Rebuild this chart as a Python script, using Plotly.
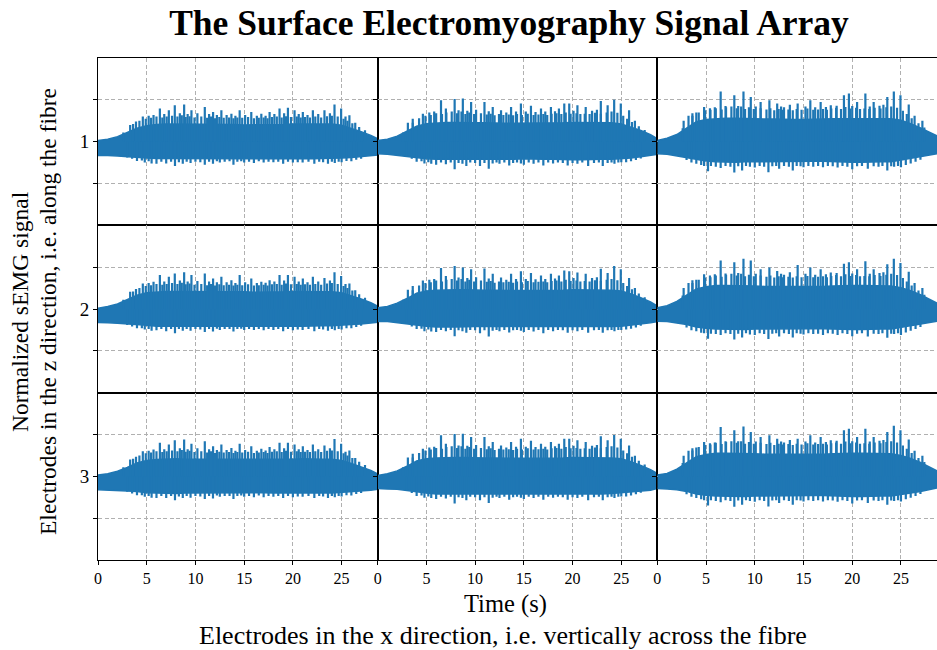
import plotly.graph_objects as go
from plotly.subplots import make_subplots

COLOR = "#1f77b4"
FONT = "Liberation Serif"

ROW_LABELS = ["1", "2", "3"]
X_TICKS = [0, 5, 10, 15, 20, 25]
TITLE = "The Surface Electromyography Signal Array"
X_TITLE = "Time (s)"
X_SUPTITLE = "Electrodes in the x direction, i.e. vertically across the fibre"
Y_TITLE_1 = "Normalized sEMG signal"
Y_TITLE_2 = "Electrodes in the z direction, i.e. along the fibre"

# solid body of the signal: upper / lower envelope, sampled every second
T_CORE = [0, 1, 2, 3, 4, 5, 6, 7, 8, 9, 10, 11, 12, 13, 14, 15, 16, 17, 18, 19,
          20, 21, 22, 23, 24, 25, 26, 27, 28, 28.7]

R1C1_UPPER = [0.03,0.06,0.12,0.22,0.32,0.38,0.41,0.42,0.42,0.42,0.42,0.41,0.41,0.41,0.41,0.40,0.40,0.40,0.41,0.41,0.42,0.42,0.42,0.42,0.42,0.39,0.32,0.24,0.15,0.07]
R2C1_UPPER = [0.02,0.06,0.12,0.22,0.33,0.39,0.41,0.42,0.42,0.42,0.42,0.41,0.41,0.41,0.41,0.41,0.40,0.40,0.41,0.41,0.42,0.42,0.42,0.42,0.41,0.39,0.32,0.24,0.15,0.07]
R3C1_UPPER = [0.03,0.06,0.12,0.21,0.32,0.38,0.40,0.41,0.42,0.41,0.41,0.41,0.40,0.40,0.40,0.40,0.40,0.40,0.40,0.41,0.41,0.42,0.41,0.41,0.41,0.38,0.31,0.23,0.14,0.06]
R1C1_LOWER = [-0.33,-0.33,-0.34,-0.35,-0.37,-0.39,-0.40,-0.41,-0.41,-0.41,-0.41,-0.40,-0.40,-0.40,-0.40,-0.40,-0.40,-0.40,-0.40,-0.41,-0.41,-0.41,-0.41,-0.41,-0.40,-0.39,-0.38,-0.36,-0.34,-0.32]
R2C1_LOWER = [-0.32,-0.33,-0.34,-0.36,-0.37,-0.39,-0.41,-0.41,-0.41,-0.41,-0.40,-0.40,-0.40,-0.40,-0.40,-0.40,-0.40,-0.40,-0.41,-0.41,-0.41,-0.41,-0.41,-0.40,-0.40,-0.39,-0.37,-0.36,-0.34,-0.32]
R3C1_LOWER = [-0.32,-0.32,-0.34,-0.35,-0.36,-0.39,-0.40,-0.41,-0.41,-0.40,-0.40,-0.40,-0.39,-0.39,-0.39,-0.39,-0.39,-0.39,-0.40,-0.40,-0.40,-0.41,-0.40,-0.40,-0.40,-0.38,-0.37,-0.35,-0.33,-0.31]

R1C2_UPPER = [0.03,0.06,0.13,0.25,0.37,0.43,0.45,0.46,0.46,0.45,0.45,0.45,0.44,0.44,0.44,0.44,0.44,0.44,0.45,0.45,0.46,0.46,0.46,0.45,0.45,0.42,0.35,0.27,0.17,0.07]
R2C2_UPPER = [0.03,0.06,0.14,0.25,0.38,0.43,0.45,0.46,0.46,0.46,0.45,0.45,0.45,0.44,0.44,0.44,0.44,0.45,0.45,0.45,0.46,0.46,0.46,0.46,0.45,0.43,0.36,0.27,0.17,0.07]
R3C2_UPPER = [0.02,0.06,0.13,0.24,0.37,0.42,0.44,0.45,0.45,0.45,0.44,0.44,0.44,0.43,0.43,0.43,0.43,0.44,0.44,0.44,0.45,0.45,0.45,0.45,0.44,0.42,0.35,0.26,0.16,0.07]
R1C2_LOWER = [-0.29,-0.30,-0.32,-0.35,-0.38,-0.41,-0.42,-0.43,-0.43,-0.43,-0.42,-0.42,-0.42,-0.42,-0.42,-0.41,-0.41,-0.42,-0.42,-0.42,-0.43,-0.43,-0.43,-0.42,-0.42,-0.41,-0.39,-0.36,-0.33,-0.30]
R2C2_LOWER = [-0.30,-0.30,-0.32,-0.35,-0.38,-0.41,-0.43,-0.43,-0.43,-0.43,-0.42,-0.42,-0.42,-0.41,-0.42,-0.41,-0.42,-0.42,-0.42,-0.43,-0.43,-0.43,-0.43,-0.42,-0.42,-0.41,-0.38,-0.36,-0.33,-0.30]
R3C2_LOWER = [-0.29,-0.30,-0.31,-0.34,-0.37,-0.40,-0.42,-0.42,-0.42,-0.42,-0.42,-0.41,-0.41,-0.41,-0.41,-0.41,-0.41,-0.41,-0.41,-0.42,-0.42,-0.42,-0.42,-0.42,-0.41,-0.40,-0.38,-0.35,-0.33,-0.29]

R1C3_UPPER = [0.03,0.08,0.17,0.33,0.48,0.53,0.55,0.56,0.56,0.55,0.55,0.54,0.54,0.53,0.53,0.53,0.53,0.54,0.55,0.55,0.56,0.56,0.56,0.55,0.55,0.51,0.43,0.33,0.22,0.14]
R2C3_UPPER = [0.03,0.08,0.18,0.34,0.48,0.53,0.56,0.56,0.56,0.56,0.55,0.54,0.54,0.53,0.53,0.53,0.54,0.54,0.55,0.56,0.56,0.56,0.56,0.55,0.55,0.51,0.44,0.34,0.23,0.14]
R3C3_UPPER = [0.03,0.07,0.17,0.32,0.47,0.52,0.55,0.55,0.55,0.55,0.54,0.53,0.53,0.52,0.52,0.52,0.53,0.53,0.54,0.55,0.55,0.55,0.55,0.54,0.54,0.50,0.43,0.33,0.22,0.13]
R1C3_LOWER = [-0.29,-0.30,-0.33,-0.37,-0.42,-0.46,-0.48,-0.49,-0.49,-0.48,-0.48,-0.48,-0.47,-0.47,-0.47,-0.47,-0.47,-0.47,-0.48,-0.48,-0.49,-0.49,-0.49,-0.48,-0.48,-0.45,-0.41,-0.37,-0.32,-0.29]
R2C3_LOWER = [-0.29,-0.30,-0.33,-0.37,-0.43,-0.46,-0.48,-0.49,-0.49,-0.49,-0.48,-0.48,-0.47,-0.47,-0.47,-0.47,-0.47,-0.47,-0.48,-0.48,-0.49,-0.49,-0.49,-0.48,-0.48,-0.45,-0.41,-0.37,-0.32,-0.29]
R3C3_LOWER = [-0.29,-0.30,-0.32,-0.36,-0.42,-0.45,-0.47,-0.48,-0.48,-0.48,-0.47,-0.47,-0.46,-0.46,-0.46,-0.46,-0.46,-0.46,-0.47,-0.47,-0.48,-0.48,-0.48,-0.47,-0.47,-0.44,-0.40,-0.36,-0.32,-0.28]

# tall upward peaks: times per column, heights per panel
COL1_UP_T = [3.3,3.9,4.6,5.2,5.7,6.35,6.8,7.27,7.88,8.4,8.84,9.2,9.59,10.2,10.96,11.4,11.81,12.2,12.66,13.2,13.69,14.1,14.54,15.1,15.73,16.3,16.76,17.2,17.61,18.1,18.63,19.1,19.49,20.17,20.6,21.02,21.5,22.05,22.6,23.24,23.8,24.27,24.95,25.4,25.8,26.4]
R1C1_UP = [0.40,0.48,0.60,0.62,0.64,0.79,0.66,0.75,0.87,0.68,0.89,0.66,0.75,0.68,0.83,0.66,0.71,0.64,0.75,0.64,0.67,0.62,0.75,0.64,0.71,0.62,0.67,0.62,0.71,0.66,0.79,0.68,0.81,0.75,0.66,0.71,0.64,0.75,0.66,0.75,0.68,0.89,0.79,0.60,0.63,0.45]
R2C1_UP = [0.41,0.48,0.61,0.62,0.65,0.81,0.66,0.77,0.85,0.68,0.88,0.66,0.81,0.67,0.85,0.66,0.73,0.64,0.77,0.64,0.69,0.62,0.81,0.64,0.73,0.62,0.65,0.63,0.69,0.66,0.81,0.68,0.81,0.77,0.66,0.73,0.64,0.77,0.66,0.74,0.68,0.88,0.79,0.60,0.61,0.45]
R3C1_UP = [0.40,0.47,0.60,0.61,0.64,0.80,0.65,0.76,0.86,0.67,0.88,0.65,0.78,0.67,0.84,0.65,0.72,0.63,0.76,0.63,0.68,0.61,0.78,0.63,0.72,0.61,0.66,0.62,0.70,0.65,0.80,0.67,0.80,0.76,0.65,0.72,0.63,0.76,0.65,0.74,0.67,0.89,0.78,0.59,0.62,0.44]

COL2_UP_T = [3.1,3.6,4.64,5.3,5.8,6.5,7.0,7.9,8.3,8.74,9.2,9.59,10.1,10.96,11.4,11.81,12.66,13.2,13.69,14.2,14.7,15.2,15.73,16.2,16.76,17.2,17.78,18.2,18.6,19.15,19.66,20.1,20.5,21.35,22.0,22.5,22.9,23.6,24.27,24.95,25.8,26.4]
R1C2_UP = [0.45,0.55,0.67,0.70,0.72,0.99,0.79,1.02,0.75,1.03,0.74,0.95,0.76,0.95,0.73,0.83,0.75,0.70,0.83,0.72,0.91,0.72,0.86,0.71,0.79,0.72,0.83,0.73,0.79,0.91,0.91,0.74,0.87,0.83,0.74,0.76,0.97,0.87,1.00,0.91,0.75,0.50]
R2C2_UP = [0.46,0.55,0.68,0.70,0.72,0.98,0.79,1.03,0.75,0.99,0.74,0.95,0.76,0.97,0.73,0.84,0.75,0.70,0.84,0.72,0.90,0.72,0.86,0.71,0.80,0.72,0.84,0.73,0.80,0.92,0.90,0.74,0.87,0.84,0.74,0.76,0.96,0.86,1.03,0.95,0.74,0.50]
R3C2_UP = [0.45,0.54,0.66,0.69,0.71,0.98,0.78,1.01,0.74,1.02,0.73,0.94,0.75,0.94,0.72,0.82,0.74,0.69,0.82,0.71,0.90,0.71,0.85,0.70,0.78,0.71,0.82,0.72,0.78,0.90,0.90,0.73,0.86,0.82,0.73,0.75,0.96,0.86,0.99,0.90,0.74,0.49]

COL3_UP_T = [2.7,3.2,3.6,4.0,4.8,5.4,5.9,6.5,7.0,7.9,8.3,8.84,9.59,10.1,10.6,11.5,12.3,12.7,13.0,13.6,14.4,15.2,15.7,16.2,16.76,17.3,17.8,18.4,19.15,19.66,20.0,20.5,21.35,21.8,22.2,22.8,23.2,23.6,24.27,24.95,25.8,26.4,27.2]
R1C3_UP = [0.50,0.62,0.68,0.70,0.83,0.80,0.82,1.20,0.85,1.11,0.85,1.20,1.07,0.84,0.95,0.99,0.91,0.84,0.82,0.88,0.91,0.84,0.99,0.82,0.95,0.83,0.87,0.86,1.11,1.15,0.85,0.95,1.15,0.84,0.95,0.86,0.88,1.07,1.20,1.11,0.89,0.62,0.50]
R2C3_UP = [0.50,0.62,0.69,0.70,0.83,0.80,0.83,1.16,0.85,1.12,0.86,1.20,1.16,0.84,0.95,0.99,0.91,0.84,0.82,0.88,1.05,0.84,0.99,0.82,0.95,0.83,0.87,0.86,1.08,1.12,0.85,0.95,1.14,0.84,0.95,0.86,0.88,1.07,1.20,1.10,0.89,0.62,0.50]
R3C3_UP = [0.49,0.61,0.67,0.69,0.82,0.79,0.81,1.18,0.84,1.10,0.84,1.19,1.06,0.83,0.94,0.98,0.90,0.83,0.81,0.87,0.90,0.83,0.98,0.81,0.94,0.82,0.86,0.85,1.10,1.14,0.84,0.94,1.14,0.83,0.94,0.85,0.87,1.06,1.21,1.10,0.88,0.61,0.49]

# smaller upward peaks between the tall ones (shared times, heights per column)
MINOR_T = [2.6,3.6,4.25,4.9,5.45,6.0,6.6,7.05,7.6,8.15,8.6,9.0,9.4,9.9,10.6,11.2,11.6,12.0,12.45,12.9,13.45,13.9,14.3,14.8,15.4,16.0,16.5,17.0,17.4,17.85,18.35,18.85,19.3,19.8,20.4,20.8,21.25,21.75,22.3,22.9,23.5,24.0,24.6,25.2,25.6,26.1,26.8,27.4]
COL1_MINOR = [0.22,0.42,0.50,0.55,0.57,0.60,0.58,0.60,0.62,0.60,0.63,0.59,0.61,0.58,0.60,0.57,0.60,0.56,0.59,0.57,0.58,0.56,0.58,0.57,0.59,0.56,0.57,0.58,0.56,0.59,0.60,0.58,0.61,0.59,0.60,0.58,0.59,0.58,0.60,0.58,0.61,0.62,0.60,0.55,0.50,0.44,0.35,0.27]
COL2_MINOR = [0.22,0.45,0.56,0.62,0.64,0.68,0.66,0.70,0.72,0.68,0.72,0.66,0.70,0.66,0.68,0.65,0.67,0.63,0.66,0.64,0.65,0.63,0.66,0.64,0.67,0.64,0.65,0.66,0.64,0.67,0.68,0.66,0.70,0.67,0.68,0.66,0.67,0.66,0.69,0.67,0.70,0.72,0.69,0.62,0.55,0.47,0.37,0.28]
COL3_MINOR = [0.32,0.62,0.70,0.75,0.76,0.80,0.77,0.82,0.84,0.80,0.84,0.78,0.82,0.78,0.80,0.77,0.80,0.75,0.78,0.76,0.77,0.75,0.78,0.76,0.79,0.76,0.77,0.78,0.76,0.79,0.81,0.78,0.83,0.79,0.81,0.78,0.79,0.78,0.81,0.79,0.82,0.84,0.81,0.74,0.66,0.56,0.44,0.34]

# downward peaks: shared times, depths per panel
DN_T = [3.0,3.5,4.0,4.5,4.8,5.2,5.5,6.0,6.5,7.0,7.5,7.9,8.3,8.7,9.1,9.5,10.0,10.5,10.96,11.4,11.8,12.2,12.5,13.0,13.5,13.9,14.3,14.7,15.0,15.5,16.0,16.5,17.0,17.5,18.0,18.5,19.0,19.5,20.0,20.5,21.0,21.6,22.2,22.7,23.1,23.6,24.0,24.3,24.7,25.0,25.5,26.0,26.5,27.0]
R1C1_DN = [-0.38,-0.41,-0.46,-0.45,-0.50,-0.47,-0.52,-0.53,-0.48,-0.52,-0.48,-0.58,-0.49,-0.53,-0.48,-0.51,-0.48,-0.49,-0.55,-0.48,-0.53,-0.47,-0.50,-0.48,-0.47,-0.55,-0.48,-0.47,-0.50,-0.48,-0.51,-0.47,-0.50,-0.48,-0.49,-0.48,-0.53,-0.48,-0.50,-0.49,-0.50,-0.48,-0.53,-0.48,-0.49,-0.53,-0.48,-0.51,-0.48,-0.49,-0.46,-0.47,-0.43,-0.41]
R2C1_DN = [-0.38,-0.42,-0.46,-0.46,-0.49,-0.48,-0.52,-0.51,-0.48,-0.53,-0.48,-0.58,-0.48,-0.52,-0.48,-0.52,-0.48,-0.49,-0.55,-0.48,-0.54,-0.47,-0.50,-0.48,-0.48,-0.54,-0.48,-0.47,-0.50,-0.48,-0.50,-0.48,-0.51,-0.48,-0.50,-0.48,-0.53,-0.48,-0.51,-0.49,-0.50,-0.48,-0.53,-0.48,-0.49,-0.52,-0.48,-0.51,-0.48,-0.49,-0.46,-0.46,-0.43,-0.40]
R3C1_DN = [-0.37,-0.41,-0.45,-0.45,-0.49,-0.47,-0.51,-0.52,-0.47,-0.52,-0.47,-0.57,-0.48,-0.52,-0.47,-0.51,-0.47,-0.48,-0.54,-0.47,-0.53,-0.46,-0.49,-0.47,-0.47,-0.54,-0.47,-0.46,-0.49,-0.47,-0.50,-0.46,-0.50,-0.47,-0.49,-0.47,-0.52,-0.47,-0.50,-0.48,-0.49,-0.47,-0.52,-0.47,-0.48,-0.52,-0.47,-0.50,-0.47,-0.48,-0.45,-0.46,-0.42,-0.40]
R1C2_DN = [-0.36,-0.41,-0.48,-0.47,-0.52,-0.49,-0.53,-0.55,-0.50,-0.54,-0.50,-0.66,-0.51,-0.53,-0.58,-0.50,-0.51,-0.58,-0.51,-0.65,-0.52,-0.50,-0.53,-0.50,-0.57,-0.51,-0.50,-0.52,-0.55,-0.50,-0.53,-0.50,-0.57,-0.50,-0.52,-0.50,-0.51,-0.57,-0.51,-0.53,-0.50,-0.58,-0.51,-0.50,-0.58,-0.51,-0.50,-0.53,-0.50,-0.49,-0.49,-0.47,-0.44,-0.40]
R2C2_DN = [-0.36,-0.42,-0.48,-0.47,-0.53,-0.49,-0.54,-0.55,-0.50,-0.53,-0.50,-0.65,-0.51,-0.53,-0.57,-0.50,-0.51,-0.58,-0.51,-0.66,-0.52,-0.50,-0.53,-0.50,-0.56,-0.51,-0.50,-0.52,-0.55,-0.50,-0.54,-0.50,-0.58,-0.50,-0.53,-0.50,-0.51,-0.57,-0.51,-0.53,-0.50,-0.57,-0.51,-0.50,-0.57,-0.51,-0.50,-0.53,-0.50,-0.50,-0.49,-0.47,-0.44,-0.40]
R3C2_DN = [-0.35,-0.40,-0.47,-0.46,-0.51,-0.48,-0.52,-0.54,-0.49,-0.53,-0.49,-0.65,-0.50,-0.52,-0.57,-0.49,-0.50,-0.57,-0.50,-0.64,-0.51,-0.49,-0.52,-0.49,-0.56,-0.50,-0.49,-0.51,-0.54,-0.49,-0.52,-0.49,-0.56,-0.49,-0.51,-0.49,-0.50,-0.56,-0.50,-0.52,-0.49,-0.57,-0.50,-0.49,-0.57,-0.50,-0.49,-0.52,-0.49,-0.48,-0.48,-0.46,-0.43,-0.39]
R1C3_DN = [-0.44,-0.50,-0.53,-0.56,-0.58,-0.71,-0.58,-0.60,-0.63,-0.58,-0.60,-0.74,-0.59,-0.69,-0.58,-0.60,-0.62,-0.58,-0.60,-0.73,-0.59,-0.58,-0.65,-0.58,-0.60,-0.69,-0.58,-0.59,-0.61,-0.58,-0.60,-0.58,-0.61,-0.58,-0.59,-0.62,-0.58,-0.60,-0.66,-0.59,-0.58,-0.65,-0.59,-0.60,-0.58,-0.69,-0.59,-0.60,-0.58,-0.61,-0.56,-0.52,-0.48,-0.43]
R2C3_DN = [-0.44,-0.51,-0.53,-0.57,-0.58,-0.71,-0.59,-0.60,-0.62,-0.58,-0.60,-0.73,-0.59,-0.68,-0.58,-0.61,-0.62,-0.58,-0.60,-0.72,-0.59,-0.58,-0.66,-0.58,-0.60,-0.68,-0.58,-0.59,-0.61,-0.58,-0.60,-0.59,-0.62,-0.58,-0.59,-0.62,-0.58,-0.60,-0.65,-0.59,-0.58,-0.66,-0.59,-0.60,-0.58,-0.69,-0.59,-0.60,-0.58,-0.62,-0.56,-0.52,-0.48,-0.43]
R3C3_DN = [-0.43,-0.49,-0.52,-0.55,-0.57,-0.70,-0.57,-0.59,-0.62,-0.57,-0.59,-0.73,-0.58,-0.68,-0.57,-0.59,-0.61,-0.57,-0.59,-0.72,-0.58,-0.57,-0.64,-0.57,-0.59,-0.68,-0.57,-0.58,-0.60,-0.57,-0.59,-0.57,-0.60,-0.57,-0.58,-0.61,-0.57,-0.59,-0.65,-0.58,-0.57,-0.64,-0.58,-0.59,-0.57,-0.68,-0.58,-0.59,-0.57,-0.60,-0.55,-0.51,-0.47,-0.42]

PANELS = {
    (1, 1): (R1C1_UPPER, R1C1_LOWER, COL1_UP_T, R1C1_UP, COL1_MINOR, R1C1_DN),
    (2, 1): (R2C1_UPPER, R2C1_LOWER, COL1_UP_T, R2C1_UP, COL1_MINOR, R2C1_DN),
    (3, 1): (R3C1_UPPER, R3C1_LOWER, COL1_UP_T, R3C1_UP, COL1_MINOR, R3C1_DN),
    (1, 2): (R1C2_UPPER, R1C2_LOWER, COL2_UP_T, R1C2_UP, COL2_MINOR, R1C2_DN),
    (2, 2): (R2C2_UPPER, R2C2_LOWER, COL2_UP_T, R2C2_UP, COL2_MINOR, R2C2_DN),
    (3, 2): (R3C2_UPPER, R3C2_LOWER, COL2_UP_T, R3C2_UP, COL2_MINOR, R3C2_DN),
    (1, 3): (R1C3_UPPER, R1C3_LOWER, COL3_UP_T, R1C3_UP, COL3_MINOR, R1C3_DN),
    (2, 3): (R2C3_UPPER, R2C3_LOWER, COL3_UP_T, R2C3_UP, COL3_MINOR, R2C3_DN),
    (3, 3): (R3C3_UPPER, R3C3_LOWER, COL3_UP_T, R3C3_UP, COL3_MINOR, R3C3_DN),
}

fig = make_subplots(rows=3, cols=3, horizontal_spacing=0, vertical_spacing=0)

for (r, c), (upper, lower, ut, uv, mv, dv) in PANELS.items():
    fig.add_trace(go.Scatter(
        x=list(T_CORE) + list(T_CORE[::-1]),
        y=list(upper) + list(lower[::-1]),
        fill="toself", fillcolor=COLOR, mode="lines",
        line=dict(color=COLOR, width=1.5), hoverinfo="skip"), row=r, col=c)
    sx, sy = [], []
    for t, v in list(zip(ut, uv)) + list(zip(MINOR_T, mv)) + list(zip(DN_T, dv)):
        sx += [t, t, None]
        sy += [0, v, None]
    fig.add_trace(go.Scatter(x=sx, y=sy, mode="lines",
                             line=dict(color=COLOR, width=2.2), hoverinfo="skip"),
                  row=r, col=c)

GRID = dict(showgrid=True, griddash="4px,2.5px", gridcolor="#b0b0b0", gridwidth=0.9,
            showline=True, linecolor="black", linewidth=1, mirror=True, zeroline=False,
            ticklen=4, tickcolor="black")

for r in range(1, 4):
    for c in range(1, 4):
        fig.update_xaxes(row=r, col=c, range=[0, 28.7], tickvals=X_TICKS,
                         ticks="outside" if r == 3 else "", showticklabels=(r == 3),
                         tickfont=dict(family=FONT, size=16, color="black"), **GRID)
        fig.update_yaxes(row=r, col=c, range=[-2, 2], tickvals=[-1, 0, 1],
                         ticktext=["", ROW_LABELS[r - 1], ""], ticks="outside",
                         showticklabels=(c == 1),
                         tickfont=dict(family=FONT, size=19, color="black"), **GRID)

L, R_, T, B = 98, 0, 58, 90
W, H = 937, 650
pw, ph = W - L - R_, H - T - B

def px(x):
    return (x - L) / pw

def py(y):
    return (H - B - y) / ph

fig.update_layout(
    width=W, height=H, margin=dict(l=L, r=R_, t=T, b=B),
    paper_bgcolor="white", plot_bgcolor="white", showlegend=False,
    title=dict(text="<b>" + TITLE + "</b>", x=px(509), xref="paper", xanchor="center",
               y=1 - 23 / H, yref="container", yanchor="middle",
               font=dict(family=FONT, size=35.5, color="black")),
    annotations=[
        dict(text=X_TITLE, x=px(505), y=py(604), xref="paper", yref="paper",
             showarrow=False, xanchor="center", yanchor="middle",
             font=dict(family=FONT, size=24.5, color="black")),
        dict(text=X_SUPTITLE, x=px(503), y=py(635), xref="paper", yref="paper",
             showarrow=False, xanchor="center", yanchor="middle",
             font=dict(family=FONT, size=26, color="black")),
        dict(text=Y_TITLE_1, x=px(20), y=py(312), xref="paper", yref="paper",
             showarrow=False, xanchor="center", yanchor="middle", textangle=-90,
             font=dict(family=FONT, size=23.5, color="black")),
        dict(text=Y_TITLE_2, x=px(48), y=py(312), xref="paper", yref="paper",
             showarrow=False, xanchor="center", yanchor="middle", textangle=-90,
             font=dict(family=FONT, size=23.5, color="black")),
    ],
)

fig.write_html("out.html")
